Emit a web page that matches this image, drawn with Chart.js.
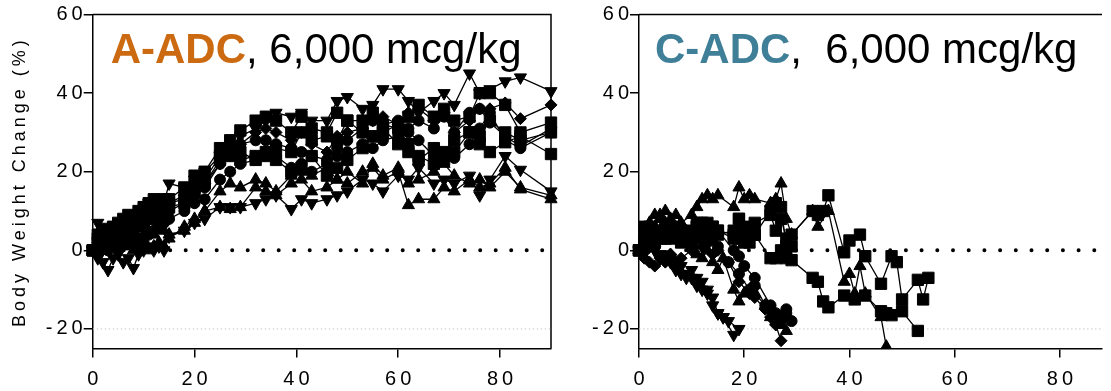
<!DOCTYPE html>
<html lang="en">
<head>
<meta charset="UTF-8">
<title>Body Weight Change</title>
<script src="https://cdn.jsdelivr.net/npm/chart.js"></script>
<style>
  html, body { margin: 0; padding: 0; background: #fff; overflow: hidden; }
  #caixaA { position: absolute; left: 0; top: 0; width: 560px; height: 391px; }
  #caixaC { position: absolute; left: 560px; top: 0; width: 551px; height: 391px; }
</style>
</head>
<body>
<div id="caixaA"><canvas id="graficoA"></canvas></div>
<div id="caixaC"><canvas id="graficoC"></canvas></div>

<script>
// ---- marcas dos eixos
const ticksX = [0, 20, 40, 60, 80];
const ticksY = [-20, 0, 20, 40, 60];

// ---- dados: painel A-ADC (mesmos dias para todos os animais)
const diasA = [0,1,2,3,4,5,6,7,8,9,10,11,12,13,14,15,18,20,22,25,27,29,32,34,36,39,41,43,46,48,50,53,55,57,60,62,64,67,69,71,74,76,78,81,84,90];

const a1 = [0,7,6,3,5,6,4,8,7,9,10,12,11,13,12,17, 16,18,20,24,26,29,31,33,35,34, 35,33,33,38,39,36,37,41,41,38, 35,38,40,37,45,40,41,43,44,40.5];
const a2 = [0,2,3,1,4,5,3,6,5,7,8,9,10,9,11,12, 14,16,17,22,24,27,30,31,30,28, 30,27,25,29,30,31,33,34,32,35, 36,33,35,30,33,36,36,37.5,33.5,37];
const a3 = [0,3,4,5,6,7,8,9,8,10,11,12,13,12,13,13, 16,19,20,26,28,30.5,33,34,33,30, 34,31,30,35,33,33,35,30,32,34, 37,34,36,33,34,40,40,37,30,32.5];
const a4 = [0,1,3,2,4,5,6,5,7,6,8,9,8,10,11,10, 12,14,16,22,25,27,28,28,27,26, 25,24,23,26,28,31,33,32,33,31, 33,31,34,30,35,36,32.5,29,26.5,31];
const a5 = [0,-1,1,0,2,1,3,2,4,3,2,4,5,6,7,8, 10,12,13,18,20,22,23,25,24,21, 22,20,22,24,25,27,26,28,29,30, 28,24,24,23.5,27,31,35,28,26,30];
const a6 = [0,2,1,3,2,4,5,3,6,7,9,8,10,11,10,12, 13,15,17,23,24,25,23,24,23,20, 21,24,19,21,23,26,29,31,27,25, 24,22,23,25,30,27,25,27.5,29,24.5];
const a7 = [0,-2,-3,-5,-2,-1,-3,-2,-4.5,-1,0,1,0,1,0,3.5, 5,7,8,11,11,11,12,13,14,10.5, 13,12,13,14,15,18,17,15,19,18, 21,17,18,17,19,14,18,24,20.5,15];
const a8 = [0,1,0,2,3,1,2,4,3,1,2,0,1,2,1,3, 6,8,10,11,10.5,11,16,15,14,17, 18,15,16,18,17,20,21,18,20,11.5, 13,13,16,15,18,16,17,21,15.5,13];
const a9 = [0,4,3,5,4,6,5,7,6,8,7,9,10,11,12,11, 12,16,18,24,25,23,24,25,26,25, 30,28,29,28,33,30,29,32,31,27, 23,26,25,28,30,29,33,30,28,30];
const a10 = [0,2,4,3,1,2,3,1,0,2,4,5,4,6,5,4, 5,7,10,15,17,16,18,17,15,19, 20,19,21,18,20,17,22,19,21,17, 18,20,22,19,17,18,16,20,16,14];

// ---- dados: painel C-ADC (cada animal tem seus dias)
const diasC1 = [0,1,2,3,4,5,6,7,8,9,10,11,12,13,14,15,16,18];
const c1 = [0,-1,1,0,-2,-1,-3,-5,-6,-7,-7,-9,-10,-11,-14,-16,-17,-21.5];
const diasC2 = [0,1,2,3,4,5,6,7,8,9,10,11,12,13,14,15,16,17,19];
const c2 = [0,2,1,0,-1,-2,-2,-3,-4,-6,-5,-7,-8,-10,-12,-16,-17,-18,-20];
const diasC3 = [0,1,2,3,4,5,6,7,8,10,12,14,15,17,19,21,22,24,25,26,27];
const c3 = [0,-2,-3,-4,-2,-3,-1,-3,-2,0,1,-1,0,-3,-8,-11,-12,-15,-17,-19,-23];
const diasC4 = [0,1,2,3,4,5,6,7,8,10,11,12,13,14,15,18,19,20,22,25,26,27,28,29];
const c4 = [0,3,2,4,5,6,4,5,3,4,6,5,6,4,5,0,-1.5,-4,-7,-14,-16,-17,-15,-18];
const diasC5 = [0,1,2,3,4,5,6,7,8,9,10,11,12,13,14,15,17,19,21,22,24,25,26,27,28];
const c5 = [0,1,3,2,4,3,5,6,4,5,2,3,4,2,3,1,-3,-6,-10,-9,-14,-15,-17,-18,-16];
const diasC6 = [0,1,2,3,4,5,6,7,8,10,11,12,13,14,15,18,19,20,21,22,25,26,27,28,29,33,34,36,39,40,41,42,43,46,47];
const c6 = [0,4,7,9,9,10,8,9,7,9,11,13,14,13,14,11,16,13,14,13,12,13,17,8,4,10,6,10,-8,-6,-11,-4,-11,-17,-24.5];
const diasC7 = [0,1,2,3,4,5,6,7,8,9,10,11,12,13,14,15,16,18,19,20,21,22,24,25,26,27,28];
const c7 = [0,2,4,6,8,7,6,5,3,2,1,-1,-2,0,-3,-5,-2,-10,-13,-11,-10,-11,-14,-17,-18,-19,-20.5];
const diasC8 = [0,1,2,3,4,5,6,7,8,10,11,12,13,14,15,18,19,20,21,22,25,26,27,28,29,33,34,35,36,39,40,42,43,46,48,49,50,53,54,55];
const c8 = [0,5,6,4,3,5,6,4,5,4,7,6,5,6,5,3,8,3,6,7,9,5,11,1,4,10,9,10,14,-0.5,2.5,4,-1.5,-8.5,-1.5,-3,-12.5,-7.5,-12.5,-7];
const diasC9 = [0,1,2,3,4,5,6,7,8,10,11,12,13,14,15,18,19,20,21,22,25,26,27,28,29,33,34,35,36,39,41,43,46,47,48,50,53];
const c9 = [0,3,2,5,4,6,3,4,2,5,6,7,6,5,4,5,3,2,5,4,-2,-2,0,-2,-2.5,-7,-8,-13,-14.5,-11.5,-12.5,-11.5,-15.5,-16,-16.5,-15.5,-20.5];
const diasC10 = [0,1,2,3,4,5,6,7,8,10,11,12,13,14,15,18,19,20,21,22,25,26,27,28,29];
const c10 = [0,6,4,2,5,3,4,6,5,2,6,5,7,6,5,4,8,5,2,4,10,12,8,3,1];

// linhas de referencia (0% pontilhado preto, -20% cinza claro)
const refZero = 0;
const refLimite = -20;

const fonte = '"Liberation Sans", Arial, Helvetica, sans-serif';

const formas = {
    quadrado: { pointStyle: 'rect', pointRadius: 8, pointRotation: 0 },
    circulo: { pointStyle: 'circle', pointRadius: 5.5 },
    triCima: { pointStyle: 'triangle', pointRadius: 7, pointRotation: 0 },
    triBaixo: { pointStyle: 'triangle', pointRadius: 7, pointRotation: 180 },
    losango: { pointStyle: 'rectRot', pointRadius: 6 }
};

function serie(dias, valores, forma) {
    return Object.assign({
        data: dias.map((d, i) => ({ x: d, y: valores[i] })),
        borderColor: '#000',
        backgroundColor: '#000',
        borderWidth: 1.3,
        pointBackgroundColor: '#000',
        pointBorderColor: '#000',
        pointBorderWidth: 1,
        tension: 0,
        order: 1,
        clip: { left: 12, top: 12, right: 12, bottom: 0 }
    }, formas[forma]);
}

function linhasRef(xMax, passo) {
    return [
        {
            data: [{ x: 0, y: refZero }, { x: xMax, y: refZero }],
            borderColor: '#000', borderWidth: 4, borderDash: [0, passo], borderCapStyle: 'round',
            pointRadius: 0, order: 5
        },
        {
            data: [{ x: 0, y: refLimite }, { x: xMax, y: refLimite }],
            borderColor: '#c8c8c8', borderWidth: 1, borderDash: [1.5, 2.5],
            pointRadius: 0, order: 6
        }
    ];
}

function escalas(xMax, larguraY, comTitulo) {
    return {
        x: {
            type: 'linear', min: 0, max: xMax,
            ticks: { color: '#000', font: { family: fonte, size: 20 }, padding: 10, labelOffset: 2, maxRotation: 0 },
            grid: { display: true, drawOnChartArea: false, drawTicks: true, tickLength: 9, color: '#000', lineWidth: 1.5 },
            border: { display: true, color: '#000', width: 1.5 },
            afterBuildTicks: s => { s.ticks = ticksX.map(v => ({ value: v })); },
            afterFit: s => { s.height = 42.4; }
        },
        y: {
            type: 'linear', min: -25, max: 60,
            ticks: { color: '#000', font: { family: fonte, size: 20 }, padding: -3 },
            grid: { display: true, drawOnChartArea: false, drawTicks: true, tickLength: 9, color: '#000', lineWidth: 1.5 },
            border: { display: true, color: '#000', width: 1.5 },
            title: { display: comTitulo, text: 'Body Weight Change (%)', color: '#000', font: { family: fonte, size: 18 }, padding: { top: 9, bottom: 0 } },
            afterBuildTicks: s => { s.ticks = ticksY.map(v => ({ value: v })); },
            afterFit: s => { s.width = larguraY; }
        }
    };
}

// moldura (borda de cima / direita) e titulo dentro do grafico
const moldura = {
    id: 'moldura',
    beforeDraw(chart) {
        chart.ctx.letterSpacing = '4px';
    },
    beforeDatasetsDraw(chart, args, opts) {
        const ctx = chart.ctx;
        const a = chart.chartArea;
        ctx.save();
        ctx.letterSpacing = '0px';
        ctx.strokeStyle = '#000';
        ctx.lineWidth = 1.5;
        ctx.beginPath();
        ctx.moveTo(a.left, a.top);
        ctx.lineTo(a.right, a.top);
        if (opts.direita) {
            ctx.lineTo(a.right, a.bottom);
        }
        ctx.stroke();

        ctx.textAlign = 'left';
        ctx.textBaseline = 'alphabetic';
        ctx.font = 'bold 42px ' + fonte;
        ctx.fillStyle = opts.cor;
        ctx.fillText(opts.nome, a.left + opts.dx, 63);
        const w = ctx.measureText(opts.nome).width;
        ctx.font = '42px ' + fonte;
        ctx.fillStyle = '#000';
        ctx.fillText(opts.resto, a.left + opts.dx + w, 63);
        ctx.restore();
    }
};

const datasetsA = [
    serie(diasA, a1, 'triBaixo'),
    serie(diasA, a2, 'losango'),
    serie(diasA, a3, 'quadrado'),
    serie(diasA, a4, 'circulo'),
    serie(diasA, a5, 'circulo'),
    serie(diasA, a6, 'quadrado'),
    serie(diasA, a7, 'triBaixo'),
    serie(diasA, a8, 'triCima'),
    serie(diasA, a9, 'quadrado'),
    serie(diasA, a10, 'triCima')
].concat(linhasRef(90, 15.5));

const datasetsC = [
    serie(diasC1, c1, 'triBaixo'),
    serie(diasC2, c2, 'triBaixo'),
    serie(diasC3, c3, 'losango'),
    serie(diasC4, c4, 'circulo'),
    serie(diasC5, c5, 'circulo'),
    serie(diasC6, c6, 'triCima'),
    serie(diasC7, c7, 'triCima'),
    serie(diasC8, c8, 'quadrado'),
    serie(diasC9, c9, 'quadrado'),
    serie(diasC10, c10, 'quadrado')
].concat(linhasRef(88, 15.7));

const graficoA = new Chart(document.getElementById('graficoA'), {
    type: 'line',
    data: { datasets: datasetsA },
    options: {
        responsive: true,
        maintainAspectRatio: false,
        animation: false,
        layout: { padding: { top: 14.5, right: 7, bottom: 0, left: 0 } },
        scales: escalas(90, 92.7, true),
        plugins: {
            legend: { display: false },
            tooltip: { enabled: false },
            moldura: { nome: 'A-ADC', resto: ', 6,000 mcg/kg', cor: '#CC6A12', dx: 18, direita: true }
        }
    },
    plugins: [moldura]
});

const graficoC = new Chart(document.getElementById('graficoC'), {
    type: 'line',
    data: { datasets: datasetsC },
    options: {
        responsive: true,
        maintainAspectRatio: false,
        animation: false,
        layout: { padding: { top: 14.5, right: 0, bottom: 0, left: 0 } },
        scales: escalas(88, 79, false),
        plugins: {
            legend: { display: false },
            tooltip: { enabled: false },
            moldura: { nome: 'C-ADC', resto: ',  6,000 mcg/kg', cor: '#3F7F98', dx: 16, direita: false }
        }
    },
    plugins: [moldura]
});
</script>
</body>
</html>
